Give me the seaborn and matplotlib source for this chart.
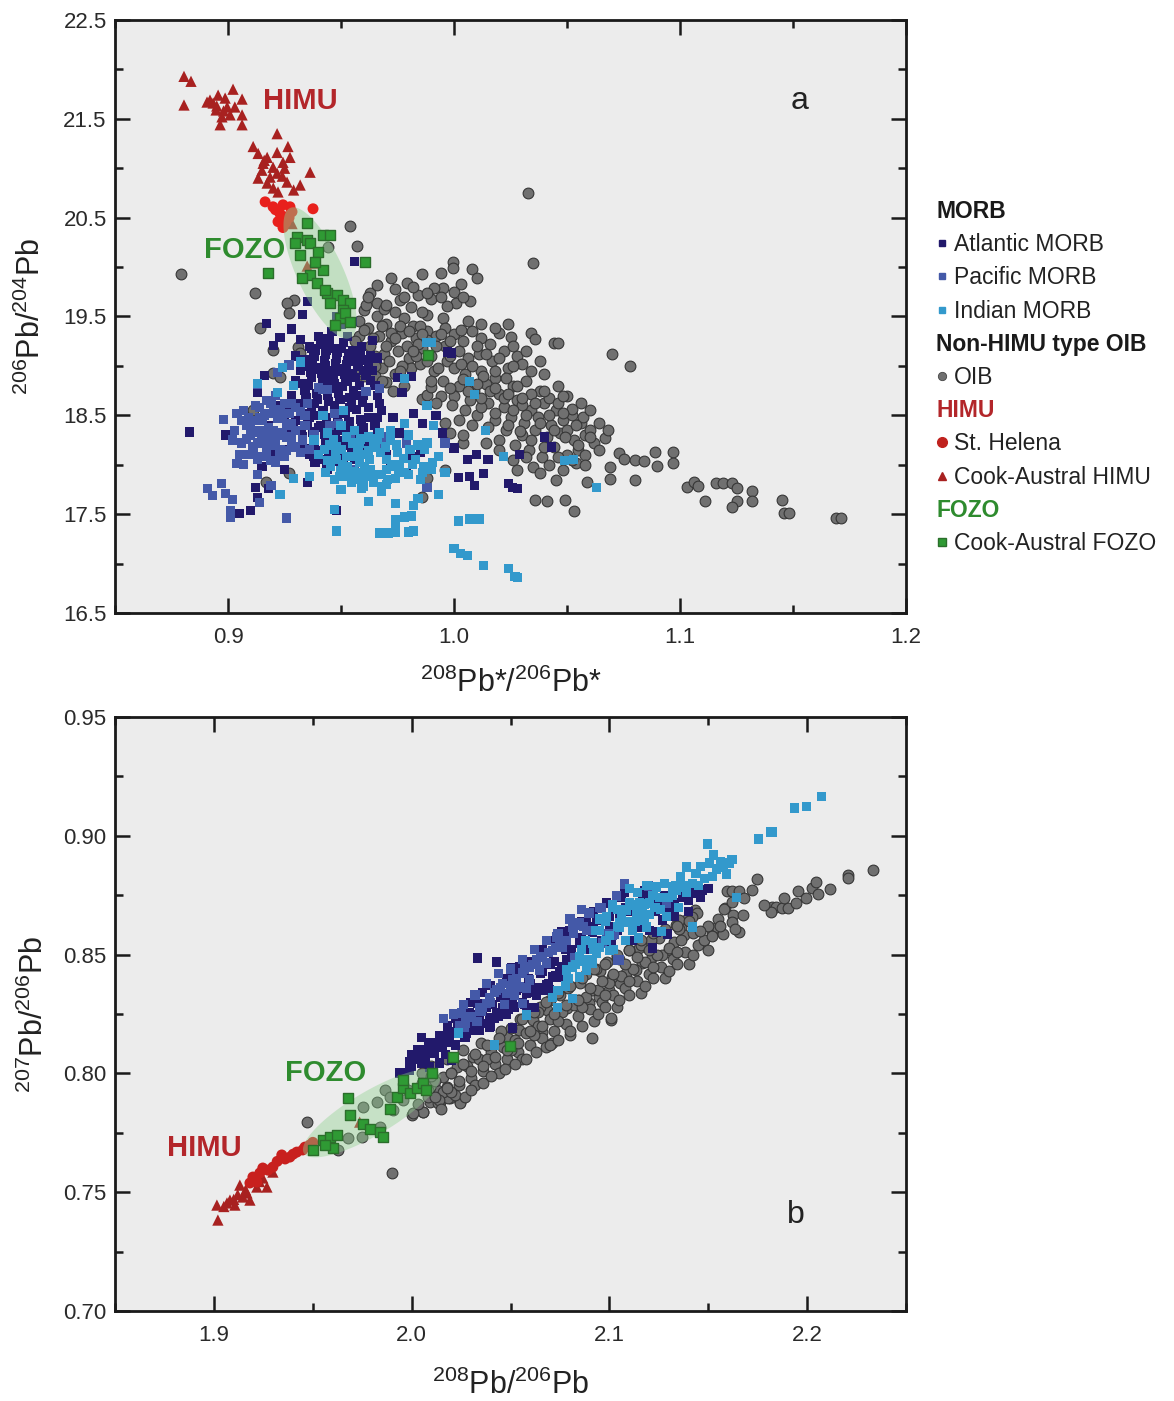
import numpy as np
import matplotlib
matplotlib.use("Agg")
import matplotlib.pyplot as plt
from matplotlib.lines import Line2D
from matplotlib.patches import Polygon
from matplotlib.ticker import MultipleLocator, FormatStrFormatter
import seaborn as sns

# ---------------- colours ----------------
c_atl = "#22196b"
c_pac = "#4459a8"
c_ind = "#3399cc"
c_oib = "#707070"
c_himu = "#a82120"
c_fozo = "#2f9a34"
c_red_txt = "#b3262a"
c_grn_txt = "#2e8b2e"

# ================= panel a : 208Pb*/206Pb* vs 206Pb/204Pb =================
himu_a_x = [0.8805, 0.8836, 0.8805, 0.8920, 0.8956, 0.8987, 0.9022, 0.9062, 0.8947, 0.8973,
            0.9009, 0.9062, 0.8965, 0.9062, 0.8907, 0.8934, 0.8996, 0.8950, 0.8980, 0.9030,
            0.9217, 0.9111, 0.9133, 0.9173, 0.9217, 0.9265, 0.9274, 0.9155, 0.9199, 0.9243,
            0.9133, 0.9173, 0.9217, 0.9261, 0.9319, 0.9363, 0.9221, 0.9186, 0.9150, 0.9240,
            0.9200, 0.9160, 0.9250, 0.9290, 0.9350, 0.9376, 0.9283]
himu_a_y = [21.93, 21.88, 21.64, 21.69, 21.74, 21.71, 21.80, 21.70, 21.59, 21.52,
            21.54, 21.54, 21.44, 21.44, 21.67, 21.66, 21.62, 21.63, 21.58, 21.62,
            21.35, 21.22, 21.15, 21.11, 21.16, 21.22, 21.11, 21.05, 21.01, 21.06,
            20.90, 20.85, 20.95, 20.86, 20.83, 20.96, 20.76, 20.91, 20.98, 20.92,
            20.80, 21.08, 21.00, 20.78, 20.01, 20.04, 20.44]

sth_a_x = [0.9164, 0.9199, 0.9243, 0.9274, 0.9221, 0.9243, 0.9261, 0.9283, 0.9376, 0.9230,
           0.9255, 0.9210, 0.9270]
sth_a_y = [20.66, 20.61, 20.63, 20.61, 20.46, 20.40, 20.51, 20.56, 20.59, 20.54,
           20.45, 20.58, 20.50]

fozo_a_x = [0.9350, 0.9305, 0.9350, 0.9420, 0.9450, 0.9296, 0.9363, 0.9398, 0.9420, 0.9363,
            0.9327, 0.9394, 0.9438, 0.9482, 0.9509, 0.9540, 0.9451, 0.9509, 0.9177, 0.9606,
            0.9885, 0.9496, 0.9518, 0.9473, 0.9540, 0.9429, 0.9385, 0.9319]
fozo_a_y = [20.45, 20.30, 20.27, 20.32, 20.32, 20.24, 20.24, 20.15, 19.97, 19.92,
            19.89, 19.84, 19.74, 19.72, 19.67, 19.64, 19.64, 19.57, 19.94, 20.05,
            19.11, 19.48, 19.54, 19.41, 19.44, 19.77, 20.05, 20.12]

oib_a_x = [0.879, 0.912, 0.914, 0.920, 0.929, 0.926, 0.927, 0.931, 0.932, 0.920,
           0.923, 0.911, 0.917, 0.927, 0.9996, 0.9996, 1.008, 1.010, 1.003, 0.995,
           0.991, 0.979, 0.972, 1.007, 1.001, 0.997, 0.984, 0.976, 0.966, 0.963,
           0.960, 0.988, 0.995, 1.0327, 1.035, 0.986, 0.994, 1.025, 1.034, 1.036,
           1.044, 1.046, 1.070, 1.078, 0.944, 0.954, 0.957,
           0.958, 0.962, 0.966, 0.970, 0.974, 0.978, 0.982, 0.967, 0.972, 0.977,
           0.983, 0.988, 0.992, 0.996, 0.963, 0.969, 0.975, 0.980, 0.986, 0.990,
           0.996, 0.962, 0.968, 0.974, 0.981, 0.985, 0.991, 0.997, 0.965, 0.970,
           0.978, 0.961, 0.969, 0.981, 0.986, 0.958, 0.985, 1.000, 1.004, 1.008,
           1.012, 1.016, 1.020, 1.002, 1.006, 1.011, 1.017, 1.022, 1.028, 1.000,
           1.005, 1.012, 1.018, 1.024, 1.030, 0.995, 1.002, 1.009, 1.014, 1.020,
           1.026, 1.032, 1.038, 1.000, 1.007, 1.015, 1.022, 1.028, 1.034, 1.040,
           1.045, 1.010, 1.018, 1.025, 1.031, 1.037, 1.043, 1.048, 1.052, 1.056,
           1.023, 1.030, 1.036, 1.041, 1.047, 1.053, 1.058, 1.062, 1.027, 1.033,
           1.039, 1.044, 1.050, 1.055, 1.035, 1.042, 1.048, 1.054, 1.030, 1.042,
           1.050, 1.015, 1.020, 0.986, 0.988, 0.990, 0.996, 0.998, 1.004, 1.014,
           0.996, 0.988, 0.986,
           1.067, 1.073, 1.075, 1.069, 1.080, 1.084, 1.089, 1.097, 1.097, 1.090,
           1.080, 1.069, 1.059, 1.103, 1.106, 1.108, 1.111, 1.116, 1.119, 1.123,
           1.125, 1.125, 1.123, 1.132, 1.132, 1.145, 1.146, 1.148, 1.169, 1.171,
           1.036, 1.041, 1.049, 1.053,
           0.960, 0.964, 0.968, 0.972, 0.976, 0.980, 0.984, 0.988, 0.992, 0.965,
           0.971, 0.977, 0.983, 0.988, 0.993, 0.998, 1.003, 1.008, 1.013, 1.018,
           1.023, 1.028, 1.034, 1.004, 1.010, 1.016, 1.022, 1.026, 1.032, 1.038,
           1.044, 1.049, 1.055, 1.060, 1.046, 1.052, 1.057, 1.012, 1.018, 1.024,
           1.029, 1.034, 1.040, 1.046, 1.052, 1.058, 1.038, 1.012, 1.018, 1.024,
           1.006, 0.978, 0.990, 0.970, 0.965, 0.960, 0.973, 0.990, 0.994, 0.999,
           1.005,
           0.962, 0.966, 0.974, 0.982, 0.988, 0.994, 1.000, 1.004, 0.970, 0.974,
           0.979, 0.986, 0.994, 0.998, 1.003, 1.010, 1.014, 1.020, 1.026, 1.032,
           1.038, 1.026, 1.034, 1.040, 1.046, 1.050, 1.056, 1.060, 1.064, 1.068,
           1.040, 1.048, 1.006, 1.018, 1.024, 1.030, 1.036, 1.042, 1.048, 1.054,
           1.060, 1.064, 1.058, 1.012, 0.998, 0.992, 1.002, 1.008, 1.004, 1.020,
           1.026, 1.032, 1.028, 1.045, 0.982, 0.976, 0.968, 0.958, 0.956]
oib_a_y = [19.93, 19.74, 19.38, 19.16, 19.67, 19.64, 19.54, 19.19, 19.13, 18.93,
           18.89, 18.55, 17.82, 17.92, 20.05, 19.99, 19.98, 19.89, 19.83, 19.79,
           19.79, 19.84, 19.89, 19.66, 19.64, 19.61, 19.72, 19.67, 19.64, 19.74,
           19.57, 19.52, 19.48, 20.75, 20.04, 19.93, 19.94, 19.29, 19.33, 19.27,
           19.23, 19.23, 19.12, 19.00, 20.20, 20.42, 20.21,
           19.45, 19.38, 19.50, 19.42, 19.55, 19.48, 19.40, 19.30, 19.25, 19.33,
           19.28, 19.35, 19.30, 19.38, 19.20, 19.12, 19.15, 19.08, 19.18, 19.10,
           19.20, 19.05, 18.98, 18.92, 18.98, 19.02, 18.95, 19.05, 18.90, 18.84,
           18.80, 19.62, 19.58, 19.60, 19.55, 19.30, 19.40, 19.32, 19.25, 19.35,
           19.28, 19.22, 19.33, 19.15, 19.08, 19.12, 19.05, 19.15, 19.10, 18.98,
           18.92, 18.95, 18.88, 18.98, 19.02, 18.85, 18.80, 18.75, 18.82, 18.72,
           18.80, 18.85, 18.75, 18.70, 18.65, 18.62, 18.58, 18.65, 18.55, 18.62,
           18.55, 18.50, 18.45, 18.48, 18.42, 18.48, 18.40, 18.45, 18.50, 18.42,
           18.35, 18.30, 18.35, 18.28, 18.32, 18.25, 18.30, 18.22, 18.20, 18.15,
           18.08, 18.18, 18.10, 18.15, 17.98, 18.00, 17.95, 18.02, 18.60, 18.68,
           18.35, 18.38, 18.25, 18.66, 18.71, 18.79, 18.42, 18.32, 18.22, 18.22,
           17.95, 17.87, 17.67,
           18.27, 18.12, 18.06, 17.98, 18.05, 18.04, 18.13, 18.13, 18.02, 17.99,
           17.85, 17.86, 17.83, 17.77, 17.83, 17.78, 17.63, 17.81, 17.81, 17.81,
           17.76, 17.63, 17.57, 17.73, 17.63, 17.64, 17.51, 17.51, 17.46, 17.46,
           17.64, 17.63, 17.64, 17.53,
           19.36, 19.28, 19.40, 19.33, 19.40, 19.35, 19.22, 19.26, 19.20, 19.10,
           19.05, 19.00, 19.10, 19.05, 18.98, 19.10, 19.02, 19.00, 18.90, 18.95,
           18.88, 18.80, 18.72, 18.87, 18.82, 18.75, 18.68, 18.55, 18.50, 18.42,
           18.35, 18.28, 18.20, 18.35, 18.62, 18.56, 18.48, 18.58, 18.52, 18.40,
           18.34, 18.25, 18.18, 18.08, 18.05, 18.10, 17.92, 19.42, 19.38, 19.42,
           19.45, 19.70, 19.68, 19.62, 19.00, 18.90, 18.75, 18.85, 18.70, 18.60,
           18.55,
           19.70, 19.82, 19.78, 19.80, 19.74, 19.70, 19.75, 19.70, 19.20, 19.28,
           19.20, 19.32, 19.32, 19.25, 19.36, 19.20, 19.12, 19.08, 19.20, 19.15,
           19.05, 19.00, 18.95, 18.92, 18.80, 18.70, 18.62, 18.55, 18.42, 18.35,
           18.75, 18.70, 18.75, 18.78, 18.72, 18.68, 18.62, 18.50, 18.52, 18.40,
           18.28, 18.15, 18.00, 18.68, 18.78, 18.62, 18.45, 18.40, 18.30, 18.15,
           18.05, 18.08, 17.95, 17.85, 19.15, 18.95, 18.85, 18.95, 19.25]

atl_a_x = [0.936, 0.941, 0.946, 0.951, 0.955, 0.959, 0.938, 0.943, 0.948, 0.953,
           0.957, 0.962, 0.935, 0.940, 0.945, 0.950, 0.955, 0.960, 0.937, 0.942,
           0.947, 0.952, 0.958, 0.963, 0.934, 0.939, 0.944, 0.949, 0.954, 0.960,
           0.932, 0.937, 0.942, 0.947, 0.952, 0.957, 0.962, 0.930, 0.935, 0.940,
           0.945, 0.950, 0.955, 0.960, 0.933, 0.938, 0.943, 0.948, 0.953, 0.958,
           0.936, 0.941, 0.946, 0.951, 0.956, 0.925, 0.928, 0.925, 0.928, 0.930,
           0.966, 0.968, 0.965, 0.970, 0.925, 0.944,
           0.946, 0.950, 0.953, 0.948, 0.952, 0.955, 0.944,
           0.883, 0.899, 0.917, 0.923, 0.920, 0.928, 0.932, 0.966, 0.975, 0.981,
           0.977, 0.997, 0.999, 0.992, 0.986, 0.995, 1.000, 1.006, 1.010, 1.015,
           1.007, 1.002, 1.009, 1.013, 1.029, 1.024, 1.026, 1.028, 1.040, 1.043,
           0.905, 0.910, 0.913, 0.912, 0.948, 0.913, 0.911, 0.915, 0.918, 0.935,
           0.964, 0.959, 0.966, 0.973, 0.982, 0.976, 0.985, 0.987, 0.979, 0.981,
           0.956, 0.935, 0.933, 0.917, 0.928, 0.920, 0.918, 0.922, 0.916, 0.970,
           0.972,
           0.9385, 0.9435, 0.9485, 0.9535, 0.9585, 0.9375, 0.9425, 0.9475, 0.9525, 0.9575,
           0.9365, 0.9415, 0.9465, 0.9515, 0.9565, 0.9355, 0.9405, 0.9455, 0.9505, 0.9555,
           0.9345, 0.9395, 0.9445, 0.9495, 0.9545, 0.9595, 0.9335, 0.9385, 0.9435, 0.9485,
           0.9535, 0.9585, 0.9325, 0.9375, 0.9425, 0.9475, 0.9525, 0.9575, 0.9345, 0.9395,
           0.9445, 0.9495, 0.9545, 0.9385, 0.9435, 0.9485, 0.9400, 0.9450, 0.9300, 0.9320,
           0.9630, 0.9640, 0.9650, 0.9670, 0.9290, 0.9270,
           0.9340, 0.9390, 0.9440, 0.9490, 0.9540, 0.9590, 0.9360, 0.9410, 0.9460, 0.9510,
           0.9560, 0.9610, 0.9330, 0.9380, 0.9430, 0.9480, 0.9530, 0.9580, 0.9430, 0.9480,
           0.9530, 0.9580, 0.9620, 0.9380, 0.9330, 0.9370, 0.9500, 0.9560, 0.9610, 0.9660]
atl_a_y = [19.20, 19.22, 19.18, 19.24, 19.15, 19.20, 19.10, 19.12, 19.08, 19.05,
           19.10, 19.02, 19.00, 18.98, 18.95, 18.97, 18.92, 18.95, 18.88, 18.85,
           18.82, 18.86, 18.80, 18.85, 18.75, 18.72, 18.70, 18.74, 18.68, 18.70,
           18.62, 18.58, 18.55, 18.60, 18.52, 18.56, 18.48, 18.45, 18.42, 18.38,
           18.40, 18.35, 18.30, 18.38, 18.28, 18.22, 18.25, 18.18, 18.20, 18.15,
           18.10, 18.05, 18.08, 18.00, 18.05, 18.15, 18.30, 18.50, 18.70, 18.85,
           18.70, 18.55, 18.40, 18.25, 17.95, 17.95,
           19.35, 19.42, 19.30, 19.50, 19.58, 19.45, 19.28,
           18.33, 18.30, 19.43, 19.29, 19.21, 19.37, 19.27, 19.08, 18.88, 18.89,
           18.73, 19.14, 19.13, 18.50, 18.42, 18.32, 18.17, 18.05, 18.10, 18.05,
           17.88, 17.87, 17.79, 17.91, 18.10, 17.81, 17.77, 17.76, 18.28, 18.18,
           17.51, 17.54, 17.67, 17.77, 17.54, 18.73, 18.33, 17.98, 17.76, 17.82,
           19.26, 19.06, 18.48, 18.48, 18.52, 18.32, 18.12, 17.95, 17.92, 18.08,
           20.06, 19.65, 19.52, 19.43, 19.38, 18.10, 18.40, 18.60, 18.90, 18.10,
           17.98,
           19.16, 19.16, 19.14, 19.12, 19.14, 19.04, 19.05, 19.02, 19.01, 19.00,
           18.93, 18.92, 18.90, 18.91, 18.88, 18.80, 18.78, 18.77, 18.79, 18.75,
           18.68, 18.66, 18.64, 18.66, 18.62, 18.63, 18.52, 18.50, 18.48, 18.46,
           18.44, 18.46, 18.35, 18.33, 18.31, 18.28, 18.27, 18.24, 18.16, 18.14,
           18.13, 18.12, 18.11, 18.02, 18.00, 18.03, 19.30, 19.26, 19.10, 18.95,
           19.10, 18.95, 18.80, 18.62, 18.40, 18.60,
           19.06, 18.96, 18.86, 18.72, 18.58, 18.40, 18.48, 18.40, 18.34, 18.24,
           18.18, 18.22, 18.18, 18.08, 18.18, 18.24, 18.36, 18.32, 19.00, 18.94,
           18.84, 18.70, 18.58, 18.62, 18.82, 19.18, 19.18, 19.05, 18.90, 18.30]

pac_a_x = [0.898, 0.904, 0.891, 0.893, 0.897, 0.901, 0.901, 0.899, 0.902, 0.914,
           0.926, 0.904, 0.913, 0.919, 0.942, 0.944, 0.961, 0.967, 0.969, 0.969,
           0.979, 0.996, 0.958, 0.956, 0.988, 0.913, 0.922, 0.924, 0.927, 0.940,
           0.947, 0.949, 0.945, 0.954,
           0.908, 0.912, 0.916, 0.920, 0.924, 0.928, 0.910, 0.914, 0.918, 0.922,
           0.926, 0.930, 0.906, 0.911, 0.915, 0.919, 0.923, 0.928, 0.932, 0.909,
           0.913, 0.917, 0.921, 0.925, 0.912, 0.917, 0.921, 0.925, 0.930, 0.934,
           0.907, 0.903, 0.905, 0.933, 0.938, 0.935, 0.915, 0.919, 0.909, 0.927,
           0.910, 0.914, 0.918, 0.922, 0.926, 0.912, 0.916, 0.920, 0.924, 0.928,
           0.908, 0.913, 0.917, 0.921, 0.926, 0.930, 0.911, 0.915, 0.919, 0.923,
           0.914, 0.919, 0.923, 0.928, 0.932, 0.906, 0.902, 0.934, 0.936, 0.907]
pac_a_y = [18.46, 18.52, 17.76, 17.69, 17.81, 17.54, 17.47, 17.71, 17.65, 17.62,
           17.46, 18.01, 17.90, 17.79, 18.76, 18.76, 18.74, 18.77, 18.28, 18.20,
           18.22, 18.22, 18.05, 17.95, 17.77, 18.81, 18.93, 18.98, 19.01, 18.78,
           18.52, 18.42, 18.40, 18.28,
           18.40, 18.45, 18.50, 18.55, 18.48, 18.42, 18.30, 18.35, 18.38, 18.32,
           18.28, 18.35, 18.22, 18.18, 18.25, 18.20, 18.15, 18.20, 18.12, 18.10,
           18.05, 18.12, 18.02, 18.08, 18.60, 18.65, 18.70, 18.62, 18.58, 18.50,
           18.55, 18.35, 18.10, 18.25, 18.30, 18.62, 18.45, 18.30, 18.48, 18.52,
           18.42, 18.48, 18.52, 18.47, 18.40, 18.33, 18.28, 18.35, 18.30, 18.25,
           18.26, 18.22, 18.18, 18.24, 18.14, 18.18, 18.12, 18.08, 18.04, 18.10,
           18.58, 18.62, 18.56, 18.62, 18.54, 18.45, 18.25, 18.40, 18.15, 18.00]

ind_a_x = [1.022, 1.049, 1.053, 1.014, 1.007, 1.009, 0.988, 0.990, 0.978, 0.988,
           0.991, 1.002, 1.007, 1.011, 1.000, 1.003, 1.006, 1.013, 1.024, 1.027,
           1.028, 0.948, 0.967, 0.971, 0.974, 0.974, 0.980, 0.982, 0.974, 0.978,
           0.981, 0.947, 0.962, 0.974, 0.982, 0.984, 0.950, 0.959, 0.968, 0.929,
           0.923, 0.913, 0.922, 0.929, 0.932, 0.924, 0.996, 0.988, 0.987, 1.063,
           0.945, 0.950, 0.955, 0.960, 0.965, 0.970, 0.975, 0.948, 0.953, 0.958,
           0.963, 0.968, 0.973, 0.978, 0.943, 0.947, 0.952, 0.957, 0.962, 0.940,
           0.944, 0.950, 0.956, 0.962, 0.967, 0.972, 0.980, 0.983, 0.985, 0.990,
           0.993, 0.938, 0.942, 0.951, 0.936, 0.970, 0.960, 0.993,
           0.9475, 0.9525, 0.9575, 0.9625, 0.9675, 0.9725, 0.9775, 0.9505, 0.9555, 0.9605,
           0.9655, 0.9705, 0.9755, 0.9455, 0.9495, 0.9545, 0.9595, 0.9645, 0.9425, 0.9465,
           0.9525, 0.9585, 0.9645, 0.9695, 0.9745, 0.9805, 0.9815, 0.9865, 0.9905,
           0.9480, 0.9560, 0.9620, 0.9700, 0.9760, 0.9540, 0.9600, 0.9680, 0.9740, 0.9800,
           0.9860, 0.9500, 0.9440, 0.9580, 0.9660, 0.9720, 0.9780, 0.9840]
ind_a_y = [18.08, 18.04, 18.05, 18.35, 18.84, 18.71, 19.24, 19.24, 18.87, 18.60,
           18.40, 17.43, 17.45, 17.45, 17.15, 17.10, 17.08, 16.98, 16.95, 16.87,
           16.86, 17.33, 17.31, 17.31, 17.37, 17.32, 17.32, 17.33, 17.44, 17.47,
           17.48, 17.55, 17.63, 17.61, 17.59, 17.66, 17.75, 17.76, 17.73, 17.86,
           17.70, 18.82, 18.73, 18.80, 19.04, 18.98, 17.92, 18.22, 18.15, 17.77,
           18.20, 18.15, 18.22, 18.10, 18.18, 18.05, 18.12, 18.05, 17.98, 18.02,
           17.95, 17.90, 17.98, 17.92, 17.92, 17.85, 17.90, 17.85, 17.88, 18.10,
           18.32, 18.40, 18.35, 18.28, 18.32, 18.25, 18.30, 18.05, 17.85, 17.95,
           18.08, 18.25, 18.50, 18.55, 17.88, 17.80, 17.78, 17.70,
           18.12, 18.08, 18.16, 18.05, 18.12, 18.00, 18.06, 18.00, 17.93, 17.98,
           17.90, 17.85, 17.94, 17.98, 17.88, 17.82, 17.92, 17.82, 18.15, 18.25,
           18.28, 18.26, 18.22, 18.18, 18.20, 18.15, 18.00, 17.98, 18.02,
           18.18, 18.08, 18.14, 17.95, 18.00, 17.88, 17.84, 17.78, 17.86, 17.90,
           17.92, 17.94, 18.04, 18.22, 18.26, 18.35, 18.42, 18.20]

# ================= panel b : 208Pb/206Pb vs 207Pb/206Pb =================
himu_b_x = [1.9015, 1.9020, 1.9066, 1.9106, 1.9131, 1.9167, 1.9182, 1.9217, 1.9247, 1.9268,
            1.9298, 1.9197, 1.9146, 1.9081, 1.9737, 1.9050, 1.9120, 1.9160, 1.9230, 1.9100]
himu_b_y = [0.7446, 0.7383, 0.7455, 0.7446, 0.7530, 0.7497, 0.7467, 0.7522, 0.7560, 0.7522,
            0.7585, 0.7560, 0.7480, 0.7467, 0.7795, 0.7440, 0.7490, 0.7510, 0.7545, 0.7470]

sth_b_x = [1.9197, 1.9247, 1.9298, 1.9343, 1.9384, 1.9419, 1.9449, 1.9485, 1.9232, 1.9273,
           1.9217, 1.9182, 1.9320, 1.9360, 1.9400, 1.9460, 1.9500]
sth_b_y = [0.7564, 0.7602, 0.7606, 0.7657, 0.7648, 0.7669, 0.7678, 0.7699, 0.7581, 0.7593,
           0.7543, 0.7539, 0.7630, 0.7640, 0.7660, 0.7690, 0.7710]

fozo_b_x = [1.9677, 1.9687, 1.9500, 1.9550, 1.9586, 1.9621, 1.9601, 1.9753, 1.9788, 1.9838,
            1.9854, 1.9924, 1.9955, 1.9990, 2.0025, 1.9955, 2.0056, 2.0101, 2.0207, 2.0495,
            1.9560, 1.9890, 2.0070]
fozo_b_y = [0.7896, 0.7825, 0.7678, 0.7720, 0.7732, 0.7741, 0.7686, 0.7788, 0.7767, 0.7754,
            0.7733, 0.7901, 0.7939, 0.7918, 0.7939, 0.7972, 0.7960, 0.8002, 0.8069, 0.8115,
            0.7700, 0.7850, 0.7930]

oib_b_x = [1.9900, 1.9470, 2.0910, 2.1010,
           1.9864, 1.9889, 1.9904, 1.9753, 1.9838, 1.9747, 1.9677, 1.9626, 2.0000, 2.0056,
           2.0091, 2.0141, 2.0192, 2.0242, 2.0126, 2.0177, 1.9955, 1.9823,
           2.1747, 2.1596, 2.1621, 2.1657, 2.1586, 2.1626, 2.1677, 2.1621, 2.1657, 2.1636,
           2.1520, 2.1545, 2.1576, 2.1475, 2.1823, 2.1843, 2.1874, 2.1904, 2.1818, 2.1884,
           2.1944, 2.1955, 2.1995, 2.2025, 2.2045, 2.2056, 2.2116, 2.2207, 2.2207, 2.2333,
           2.1434, 2.1444, 2.1404, 2.1389, 2.1338, 2.1364, 2.1379, 2.1328, 2.1303, 2.1268,
           2.1217, 2.1167, 2.1136, 2.1086, 2.1051, 2.1000, 2.0949, 2.0899, 2.0848, 2.0783,
           2.1010, 2.1354, 2.1419, 2.1015, 2.0914, 2.0682, 2.0611, 2.0545, 2.0480, 2.0394,
           2.0308, 2.0227, 2.0157, 2.0091, 2.0712, 2.0657, 2.0242, 2.0056, 2.0131, 2.0182,
           2.0081, 2.0005,
           2.012, 2.016, 2.020, 2.024, 2.028, 2.030, 2.034, 2.036, 2.040, 2.042,
           2.046, 2.048, 2.052, 2.054, 2.058, 2.060, 2.064, 2.066, 2.070, 2.072,
           2.076, 2.078, 2.082, 2.084, 2.088, 2.090, 2.094, 2.096, 2.100, 2.102,
           2.106, 2.108, 2.112, 2.114, 2.118, 2.120, 2.124, 2.126, 2.130, 2.132,
           2.136, 2.138, 2.142, 2.145, 2.150, 2.155,
           2.005, 2.010, 2.018, 2.026, 2.035, 2.045, 2.055, 2.065, 2.075, 2.085,
           2.095, 2.105, 2.115, 2.125, 2.135,
           2.014, 2.022, 2.032, 2.044, 2.056, 2.068, 2.080, 2.092, 2.104, 2.116,
           2.128, 2.140, 2.150,
           2.003, 2.008, 2.015, 2.020, 2.027, 2.030, 2.036, 2.040, 2.047, 2.052,
           2.058, 2.063, 2.070, 2.074, 2.080, 2.086, 2.094, 2.098, 2.105, 2.110,
           2.118, 2.122, 2.130, 2.134, 2.142, 2.148, 2.152, 2.156, 2.158, 2.162,
           2.168, 2.172, 2.178, 2.038, 2.050, 2.062, 2.074, 2.086, 2.098, 2.110,
           2.122, 2.134, 2.146, 2.088, 2.093, 2.099, 2.104, 2.110, 2.116, 2.121,
           2.079, 2.070, 2.064,
           2.020, 2.026, 2.032, 2.038, 2.044, 2.050, 2.056, 2.062, 2.068, 2.074,
           2.080, 2.086, 2.092, 2.098, 2.104, 2.110, 2.116, 2.122, 2.128, 2.134,
           2.140, 2.012, 2.018, 2.024, 2.030, 2.036, 2.042, 2.048, 2.054, 2.060,
           2.066, 2.072, 2.078, 2.084, 2.090, 2.096, 2.102, 2.108, 2.114, 2.120,
           2.005, 1.998, 2.010]
oib_b_y = [0.7580, 0.7795, 0.8150, 0.8225,
           0.7930, 0.7900, 0.7846, 0.7859, 0.7774, 0.7732, 0.7728, 0.7678, 0.7825, 0.7838,
           0.7880, 0.7880, 0.7896, 0.7880, 0.7930, 0.7943, 0.7888, 0.7880,
           0.8818, 0.8768, 0.8768, 0.8768, 0.8696, 0.8667, 0.8667, 0.8637, 0.8595, 0.8608,
           0.8591, 0.8616, 0.8587, 0.8553, 0.8700, 0.8700, 0.8696, 0.8696, 0.8679, 0.8738,
           0.8717, 0.8768, 0.8738, 0.8780, 0.8806, 0.8755, 0.8776, 0.8835, 0.8822, 0.8856,
           0.8688, 0.8675, 0.8658, 0.8646, 0.8625, 0.8612, 0.8582, 0.8553, 0.8519, 0.8498,
           0.8490, 0.8465, 0.8435, 0.8423, 0.8380, 0.8351, 0.8322, 0.8296, 0.8309, 0.8275,
           0.8233, 0.8646, 0.8658, 0.8406, 0.8351, 0.8267, 0.8225, 0.8183, 0.8153, 0.8111,
           0.8069, 0.8027, 0.7985, 0.7943, 0.8128, 0.8174, 0.7875, 0.7838, 0.7875, 0.7896,
           0.7930, 0.7833,
           0.797, 0.792, 0.800, 0.795, 0.803, 0.798, 0.806, 0.801, 0.809, 0.804,
           0.811, 0.806, 0.814, 0.809, 0.817, 0.812, 0.820, 0.815, 0.823, 0.818,
           0.826, 0.821, 0.829, 0.824, 0.832, 0.827, 0.835, 0.830, 0.838, 0.833,
           0.841, 0.836, 0.844, 0.839, 0.847, 0.842, 0.850, 0.845, 0.853, 0.848,
           0.856, 0.851, 0.859, 0.854, 0.862, 0.865,
           0.800, 0.803, 0.806, 0.810, 0.813, 0.818, 0.823, 0.828, 0.833, 0.838,
           0.843, 0.848, 0.853, 0.857, 0.861,
           0.789, 0.791, 0.795, 0.800, 0.806, 0.811, 0.816, 0.822, 0.828, 0.834,
           0.840, 0.846, 0.852,
           0.7870, 0.7900, 0.7850, 0.7920, 0.7900, 0.7930, 0.7960, 0.7990, 0.8020, 0.8040,
           0.8060, 0.8090, 0.8120, 0.8140, 0.8180, 0.8200, 0.8250, 0.8280, 0.8310, 0.8330,
           0.8370, 0.8400, 0.8430, 0.8460, 0.8500, 0.8560, 0.8580, 0.8620, 0.8690, 0.8720,
           0.8740, 0.8770, 0.8710, 0.8060, 0.8100, 0.8160, 0.8220, 0.8280, 0.8330, 0.8390,
           0.8450, 0.8510, 0.8600, 0.8420, 0.8440, 0.8470, 0.8490, 0.8520, 0.8540, 0.8560,
           0.8360, 0.8310, 0.8260,
           0.8000, 0.8040, 0.8080, 0.8120, 0.8150, 0.8190, 0.8230, 0.8260, 0.8300, 0.8340,
           0.8370, 0.8400, 0.8440, 0.8460, 0.8500, 0.8520, 0.8560, 0.8590, 0.8610, 0.8620,
           0.8640, 0.7900, 0.7940, 0.7970, 0.8010, 0.8030, 0.8070, 0.8100, 0.8130, 0.8180,
           0.8200, 0.8250, 0.8290, 0.8310, 0.8360, 0.8390, 0.8420, 0.8460, 0.8490, 0.8520,
           0.7960, 0.7930, 0.7990]

atl_b_x = [2.0333, 2.0429, 2.0050, 2.0086, 2.0035, 2.0116, 2.0050, 2.0505, 2.0505, 2.0545,
           2.0758, 2.0773, 2.0884, 2.1076, 2.1076, 2.1369, 2.1429, 2.1303, 2.1217, 2.1237,
           2.1010, 2.0848, 2.0697, 2.0712, 2.0581, 2.0621, 2.0510, 2.0429, 2.0333, 2.0293,
           2.0253, 2.0207, 2.0278, 2.0343, 2.0394, 2.0343, 2.0394, 2.0460, 2.0510, 2.0581,
           2.0631, 2.0682, 2.0747, 2.0783, 2.0808, 2.0864, 2.0914, 2.0934, 2.0985, 2.1116,
           2.1152, 2.1202, 2.1268, 2.1318, 2.0106, 2.0157, 2.0192, 2.0242, 2.0293, 2.0328,
           2.0202, 2.0141, 2.0091, 1.9990, 1.9939, 2.1470, 2.1439, 2.1374, 2.1293, 2.0380,
           2.0450, 2.0550, 2.0650, 2.0700, 2.0800, 2.0600, 2.0150, 2.0250, 2.0000, 1.9990,
           2.0420, 2.0480, 2.0950, 2.1050, 2.1150, 2.1400, 2.1200, 1.9955,
           2.0000, 2.0030, 2.0070, 2.0100, 2.0130, 2.0170, 2.0180, 2.0220, 2.0230, 2.0270,
           2.0300, 2.0310, 2.0360, 2.0370, 2.0410, 2.0440, 2.0470, 2.0490, 2.0530, 2.0560,
           2.0590, 2.0620, 2.0660, 2.0690, 2.0720, 2.0750, 2.0780, 2.0820, 2.0860, 2.0890,
           2.0920, 2.0960, 2.1000, 2.1040, 2.1080, 2.1120, 2.1170, 2.1230, 2.1280, 2.1330,
           2.1410, 2.1460, 2.1500, 2.0400, 2.0520, 2.0640, 2.0760, 2.0880, 2.1000, 2.1100,
           2.0020, 2.0060, 2.0100, 2.0140, 2.0180, 2.0220, 2.0260, 2.0300, 2.0080, 2.0120,
           2.0160, 2.0200, 2.0240, 2.0280, 2.0360, 2.0400, 2.0480, 2.0540, 2.0600, 2.0660,
           2.0720, 2.0800, 2.0860, 2.0920, 2.1060, 2.1180, 2.1250, 2.1330, 2.1400, 2.0570,
           2.0650, 2.0730]
atl_b_y = [0.8486, 0.8469, 0.8150, 0.8128, 0.8086, 0.8086, 0.8044, 0.8444, 0.8414, 0.8448,
           0.8595, 0.8595, 0.8637, 0.8763, 0.8797, 0.8742, 0.8759, 0.8688, 0.8528, 0.8595,
           0.8549, 0.8549, 0.8351, 0.8406, 0.8338, 0.8279, 0.8191, 0.8258, 0.8296, 0.8258,
           0.8225, 0.8174, 0.8170, 0.8183, 0.8195, 0.8233, 0.8237, 0.8279, 0.8309, 0.8275,
           0.8330, 0.8372, 0.8406, 0.8477, 0.8507, 0.8549, 0.8595, 0.8646, 0.8717, 0.8561,
           0.8616, 0.8603, 0.8646, 0.8700, 0.8107, 0.8111, 0.8132, 0.8170, 0.8212, 0.8246,
           0.8056, 0.8044, 0.8027, 0.8014, 0.8002, 0.8772, 0.8759, 0.8747, 0.8587, 0.8280,
           0.8320, 0.8360, 0.8420, 0.8460, 0.8520, 0.8380, 0.8150, 0.8190, 0.8080, 0.8050,
           0.8230, 0.8250, 0.8600, 0.8650, 0.8700, 0.8680, 0.8750, 0.8002,
           0.8030, 0.8100, 0.8060, 0.8090, 0.8130, 0.8080, 0.8160, 0.8120, 0.8200, 0.8150,
           0.8230, 0.8180, 0.8260, 0.8210, 0.8290, 0.8240, 0.8320, 0.8270, 0.8350, 0.8300,
           0.8400, 0.8340, 0.8430, 0.8380, 0.8470, 0.8430, 0.8520, 0.8480, 0.8570, 0.8520,
           0.8620, 0.8560, 0.8660, 0.8600, 0.8700, 0.8640, 0.8730, 0.8680, 0.8750, 0.8720,
           0.8790, 0.8740, 0.8780, 0.8200, 0.8280, 0.8360, 0.8450, 0.8540, 0.8620, 0.8680,
           0.8060, 0.8100, 0.8130, 0.8160, 0.8200, 0.8230, 0.8270, 0.8300, 0.8090, 0.8110,
           0.8140, 0.8170, 0.8210, 0.8240, 0.8340, 0.8370, 0.8400, 0.8440, 0.8470, 0.8520,
           0.8560, 0.8600, 0.8640, 0.8680, 0.8740, 0.8770, 0.8720, 0.8660, 0.8730, 0.8290,
           0.8350, 0.8410]

pac_b_x = [2.0460, 2.0510, 2.0561, 2.0596, 2.0631, 2.0662, 2.0712, 2.0747, 2.0429, 2.0394,
           2.0359, 2.0480, 2.0545, 2.0596, 2.0646, 2.0682, 2.0732, 2.0813, 2.0848, 2.0899,
           2.0949, 2.0884, 2.0934, 2.1015, 2.1000, 2.1051, 2.1076, 2.1197, 2.1288, 2.0273,
           2.0253, 2.0283, 2.0343, 2.0379, 2.0561, 2.0268, 2.1040, 2.1035, 2.0960, 2.0894,
           2.0833, 2.0985, 2.1025, 2.0965, 2.1045, 2.0823, 2.0763,
           2.0300, 2.0350, 2.0400, 2.0420, 2.0450, 2.0500, 2.0530, 2.0570, 2.0610, 2.0650,
           2.0690, 2.0730, 2.0780, 2.0820, 2.0870, 2.0470, 2.0520, 2.0580, 2.0330, 2.0240,
           2.0380, 2.0440, 2.0500, 2.0560, 2.0620, 2.0680, 2.0740, 2.0320, 2.0260, 2.0210,
           2.0160, 2.0800, 2.0860]
pac_b_y = [0.8380, 0.8393, 0.8423, 0.8448, 0.8477, 0.8490, 0.8519, 0.8549, 0.8351, 0.8321,
           0.8279, 0.8338, 0.8364, 0.8393, 0.8435, 0.8465, 0.8574, 0.8616, 0.8633, 0.8675,
           0.8700, 0.8603, 0.8519, 0.8583, 0.8519, 0.8477, 0.8797, 0.8789, 0.8717, 0.8212,
           0.8254, 0.8237, 0.8279, 0.8296, 0.8296, 0.8195, 0.8477, 0.8747, 0.8696, 0.8675,
           0.8625, 0.8587, 0.8587, 0.8549, 0.8477, 0.8486, 0.8532,
           0.8240, 0.8260, 0.8300, 0.8340, 0.8360, 0.8370, 0.8400, 0.8440, 0.8460, 0.8490,
           0.8510, 0.8530, 0.8560, 0.8590, 0.8620, 0.8290, 0.8330, 0.8360, 0.8220, 0.8200,
           0.8380, 0.8420, 0.8440, 0.8480, 0.8520, 0.8560, 0.8590, 0.8330, 0.8290, 0.8250,
           0.8230, 0.8650, 0.8690]

ind_b_x = [2.1015, 2.1116, 2.1177, 2.1202, 2.1237, 2.1253, 2.1318, 2.1333, 2.1374, 2.1495,
           2.1525, 2.1505, 2.1389, 2.1439, 2.1576, 2.1606, 2.1591, 2.1753, 2.1813, 2.1823,
           2.1934, 2.1995, 2.2071, 2.1419, 2.1641, 2.0778, 2.0813, 2.1263, 2.1146, 2.1086,
           2.1051, 2.0985, 2.0949, 2.0914, 2.1000, 2.0848, 2.0813, 2.0884, 2.0914, 2.0848,
           2.0783, 2.1177, 2.1136, 2.1086, 2.1187, 2.1434, 2.1318, 2.1369, 2.0712, 2.0737,
           2.0419, 2.0237, 2.0581, 2.0884, 2.1015, 2.1167, 2.1051, 2.0985, 2.0934, 2.1116,
           2.1290, 2.1350,
           2.0950, 2.1000, 2.1060, 2.1080, 2.1130, 2.1150, 2.1200, 2.1220, 2.1260, 2.1280,
           2.1340, 2.1360, 2.1420, 2.1460, 2.1480, 2.1540, 2.0860, 2.0900, 2.0950, 2.1020,
           2.0790, 2.0830, 2.0740, 2.1100, 2.1190,
           2.0880, 2.0930, 2.0980, 2.1040, 2.1100, 2.1140, 2.1040, 2.0980, 2.0920, 2.0860,
           2.1080, 2.1160, 2.1230, 2.1300, 2.1390, 2.1450, 2.1520, 2.1560, 2.1620]
ind_b_y = [0.8709, 0.8709, 0.8713, 0.8717, 0.8785, 0.8742, 0.8751, 0.8789, 0.8789, 0.8966,
           0.8919, 0.8886, 0.8869, 0.8843, 0.8869, 0.8886, 0.8839, 0.8987, 0.9016, 0.9016,
           0.9117, 0.9125, 0.9167, 0.8616, 0.8742, 0.8368, 0.8317, 0.8599, 0.8570, 0.8637,
           0.8616, 0.8658, 0.8603, 0.8549, 0.8519, 0.8490, 0.8448, 0.8435, 0.8465, 0.8406,
           0.8435, 0.8646, 0.8675, 0.8688, 0.8616, 0.8843, 0.8785, 0.8785, 0.8321, 0.8279,
           0.8120, 0.8170, 0.8246, 0.8477, 0.8700, 0.8700, 0.8633, 0.8561, 0.8507, 0.8603,
           0.8660, 0.8700,
           0.8650, 0.8580, 0.8660, 0.8560, 0.8640, 0.8720, 0.8670, 0.8750, 0.8690, 0.8800,
           0.8770, 0.8830, 0.8800, 0.8870, 0.8820, 0.8860, 0.8520, 0.8480, 0.8530, 0.8520,
           0.8400, 0.8460, 0.8350, 0.8780, 0.8790,
           0.8560, 0.8600, 0.8640, 0.8690, 0.8720, 0.8760, 0.8620, 0.8560, 0.8520, 0.8470,
           0.8640, 0.8680, 0.8700, 0.8740, 0.8760, 0.8790, 0.8830, 0.8890, 0.8900]

# FOZO fields (centre, two conjugate half-axes in data units)
fozo_field_a = [(0.9407, 19.94), (0.01327, -0.6577), (0.00925, 0.0971)]
fozo_field_b = [(1.9798, 0.7833), (0.03434, 0.01684), (0.0056, -0.00795)]

legend_labels = ["MORB", "Atlantic MORB", "Pacific MORB", "Indian MORB",
                 "Non-HIMU type OIB", "OIB", "HIMU", "St. Helena",
                 "Cook-Austral HIMU", "FOZO", "Cook-Austral FOZO"]

# ---------------- style ----------------
sns.set_style("ticks")
plt.rcParams["font.family"] = ["Liberation Sans", "DejaVu Sans"]
plt.rcParams["mathtext.fontset"] = "custom"
plt.rcParams["mathtext.rm"] = "Liberation Sans"
plt.rcParams["mathtext.it"] = "Liberation Sans:italic"
plt.rcParams["mathtext.bf"] = "Liberation Sans:bold"

fig = plt.figure(figsize=(11.74, 14.01), dpi=100)
ax_a = fig.add_axes([0.098, 0.5625, 0.6738, 0.4232])
ax_b = fig.add_axes([0.098, 0.0642, 0.6738, 0.4240])


def field(ax, spec, color, alpha):
    (cx, cy), (ux, uy), (vx, vy) = spec
    t = np.linspace(0, 2 * np.pi, 200)
    pts = np.column_stack([cx + ux * np.cos(t) + vx * np.sin(t),
                           cy + uy * np.cos(t) + vy * np.sin(t)])
    ax.add_patch(Polygon(pts, closed=True, facecolor=color, edgecolor="none",
                         alpha=alpha, zorder=4))


def draw_panel(ax, oib, atl, pac, ind, himu, sth, fozo, spec, falpha, sth_col):
    sns.scatterplot(x=oib[0], y=oib[1], ax=ax, marker="o", s=60, color=c_oib,
                    edgecolor="#363636", linewidth=0.8, zorder=2)
    sns.scatterplot(x=atl[0], y=atl[1], ax=ax, marker="s", s=44, color=c_atl,
                    edgecolor="none", linewidth=0, zorder=3)
    sns.scatterplot(x=pac[0], y=pac[1], ax=ax, marker="s", s=44, color=c_pac,
                    edgecolor="none", linewidth=0, zorder=3)
    sns.scatterplot(x=ind[0], y=ind[1], ax=ax, marker="s", s=44, color=c_ind,
                    edgecolor="none", linewidth=0, zorder=3)
    sns.scatterplot(x=himu[0], y=himu[1], ax=ax, marker="^", s=66, color=c_himu,
                    edgecolor="none", linewidth=0, zorder=3)
    sns.scatterplot(x=sth[0], y=sth[1], ax=ax, marker="o", s=62, color=sth_col,
                    edgecolor="none", linewidth=0, zorder=3)
    field(ax, spec, "#8fd18f", falpha)
    sns.scatterplot(x=fozo[0], y=fozo[1], ax=ax, marker="s", s=44, color=c_fozo,
                    edgecolor="#2b6e2b", linewidth=1.0, zorder=5)
    ax.set_facecolor("#ececec")
    for sp in ax.spines.values():
        sp.set_linewidth(2.0)
        sp.set_color("#1a1a1a")
    ax.tick_params(which="both", direction="in", top=True, right=True,
                   width=1.8, color="#1a1a1a", labelsize=16, labelcolor="#2a2a2a")
    ax.tick_params(which="major", length=11)
    ax.tick_params(which="minor", length=6)
    ax.tick_params(axis="x", which="major", pad=10)
    ax.tick_params(axis="y", which="major", pad=6)


draw_panel(ax_a, (oib_a_x, oib_a_y), (atl_a_x, atl_a_y), (pac_a_x, pac_a_y),
           (ind_a_x, ind_a_y), (himu_a_x, himu_a_y), (sth_a_x, sth_a_y),
           (fozo_a_x, fozo_a_y), fozo_field_a, 0.45, "#e8201c")
draw_panel(ax_b, (oib_b_x, oib_b_y), (atl_b_x, atl_b_y), (pac_b_x, pac_b_y),
           (ind_b_x, ind_b_y), (himu_b_x, himu_b_y), (sth_b_x, sth_b_y),
           (fozo_b_x, fozo_b_y), fozo_field_b, 0.4, "#c8201e")

# axes a
ax_a.set_xlim(0.85, 1.2)
ax_a.set_ylim(16.5, 22.5)
ax_a.xaxis.set_major_locator(MultipleLocator(0.1))
ax_a.xaxis.set_minor_locator(MultipleLocator(0.05))
ax_a.yaxis.set_major_locator(MultipleLocator(1.0, offset=0.5))
ax_a.yaxis.set_minor_locator(MultipleLocator(0.5))
ax_a.xaxis.set_major_formatter(FormatStrFormatter("%.1f"))
ax_a.yaxis.set_major_formatter(FormatStrFormatter("%.1f"))
ax_a.set_xlabel(r"$^{208}$Pb*/$^{206}$Pb*", fontsize=22, labelpad=14, color="#222222")
ax_a.set_ylabel(r"$^{206}$Pb/$^{204}$Pb", fontsize=22, labelpad=12, color="#222222")
ax_a.text(0.9319, 21.68, "HIMU", fontsize=21, fontweight="bold",
          color=c_red_txt, ha="center", va="center")
ax_a.text(0.9075, 20.17, "FOZO", fontsize=21, fontweight="bold",
          color=c_grn_txt, ha="center", va="center")
ax_a.text(0.865, 0.863, "a", transform=ax_a.transAxes, fontsize=23, ha="center",
          va="center", color="#222222")

# axes b
ax_b.set_xlim(1.85, 2.25)
ax_b.set_ylim(0.70, 0.95)
ax_b.xaxis.set_major_locator(MultipleLocator(0.1))
ax_b.xaxis.set_minor_locator(MultipleLocator(0.05))
ax_b.yaxis.set_major_locator(MultipleLocator(0.05))
ax_b.yaxis.set_minor_locator(MultipleLocator(0.025))
ax_b.xaxis.set_major_formatter(FormatStrFormatter("%.1f"))
ax_b.yaxis.set_major_formatter(FormatStrFormatter("%.2f"))
ax_b.set_xlabel(r"$^{208}$Pb/$^{206}$Pb", fontsize=22, labelpad=17, color="#222222")
ax_b.set_ylabel(r"$^{207}$Pb/$^{206}$Pb", fontsize=22, labelpad=10, color="#222222")
ax_b.text(1.895, 0.7686, "HIMU", fontsize=21, fontweight="bold",
          color=c_red_txt, ha="center", va="center")
ax_b.text(1.9566, 0.8002, "FOZO", fontsize=21, fontweight="bold",
          color=c_grn_txt, ha="center", va="center")
ax_b.text(0.861, 0.162, "b", transform=ax_b.transAxes, fontsize=23, ha="center",
          va="center", color="#222222")

# ---------------- legend ----------------
blank = Line2D([], [], linestyle="none", marker=None)
handles = [
    blank,
    Line2D([], [], ls="none", marker="s", ms=5, color=c_atl),
    Line2D([], [], ls="none", marker="s", ms=5, color=c_pac),
    Line2D([], [], ls="none", marker="s", ms=5, color=c_ind),
    blank,
    Line2D([], [], ls="none", marker="o", ms=6, color=c_oib, mec="#444444", mew=0.6),
    blank,
    Line2D([], [], ls="none", marker="o", ms=7, color="#c0221e"),
    Line2D([], [], ls="none", marker="^", ms=6, color=c_himu),
    blank,
    Line2D([], [], ls="none", marker="s", ms=6, color=c_fozo, mec="#2b6e2b", mew=1),
]
leg = fig.legend(handles, legend_labels, loc="upper left",
                 bbox_to_anchor=(937 / 1174, 1 - 200 / 1401),
                 frameon=False, fontsize=16.5, handlelength=0.4, handletextpad=0.35,
                 labelspacing=0.445, borderaxespad=0, borderpad=0)
header_style = {0: "#1a1a1a", 4: "#1a1a1a", 6: c_red_txt, 9: c_grn_txt}
for i, txt in enumerate(leg.get_texts()):
    if i in header_style:
        txt.set_color(header_style[i])
        txt.set_fontweight("bold")
        txt.set_position((-18, 0))
    else:
        txt.set_color("#222222")

fig.savefig("out.png", dpi=100)
